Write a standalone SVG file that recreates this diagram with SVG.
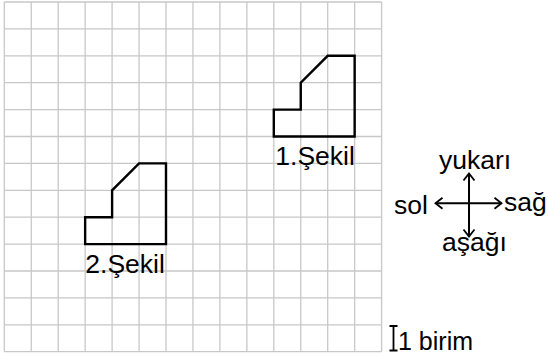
<svg xmlns="http://www.w3.org/2000/svg" width="548" height="358" viewBox="0 0 548 358">
<style>
.grid{stroke:#c8c8c8;stroke-width:1.3;fill:none}
.shape{stroke:#000;stroke-width:2.4;fill:none;stroke-linejoin:miter}
.lbl{font-family:"Liberation Sans",Arial,sans-serif;font-size:26.5px;fill:#000}
.dir{font-family:"Liberation Sans",Arial,sans-serif;font-size:26.5px;fill:#000}
.ax{stroke:#000;stroke-width:2;fill:none}
</style>
<defs>
<marker id="chev" markerUnits="userSpaceOnUse" markerWidth="12" markerHeight="14" viewBox="-9 -7 12 14" refX="0" refY="0" orient="auto">
<path d="M-7,-5.5 L0,0 L-7,5.5" fill="none" stroke="#000" stroke-width="1.8"/>
</marker>
</defs>
<rect width="548" height="358" fill="#fff"/>
<g id="grid" class="grid">
<path d="M4.3,2V351.7M31.25,2V351.7M58.2,2V351.7M85.15,2V351.7M112.1,2V351.7M139.05,2V351.7M166,2V351.7M192.95,2V351.7M219.9,2V351.7M246.85,2V351.7M273.8,2V351.7M300.75,2V351.7M327.7,2V351.7M354.65,2V351.7M381.6,2V351.7"/>
<path d="M4.3,2H381.6M4.3,28.9H381.6M4.3,55.8H381.6M4.3,82.7H381.6M4.3,109.6H381.6M4.3,136.5H381.6M4.3,163.4H381.6M4.3,190.3H381.6M4.3,217.2H381.6M4.3,244.1H381.6M4.3,271H381.6M4.3,297.9H381.6M4.3,324.8H381.6M4.3,351.7H381.6"/>
</g>
<g id="sekil1">
<path class="shape" d="M273.8,136.5V109.6H300.75V82.7L327.7,55.8H354.65V136.5Z"/>
<text class="lbl" x="275.3" y="165">1.Şekil</text>
</g>
<g id="sekil2">
<path class="shape" d="M85.15,244.1V217.2H112.1V190.3L139.05,163.4H166V244.1Z"/>
<text class="lbl" x="85.3" y="273">2.Şekil</text>
</g>
<g id="compass">
<g id="connectors">
<line class="ax" x1="469" y1="203.3" x2="469" y2="173.5" marker-end="url(#chev)"/>
<line class="ax" x1="469" y1="203.3" x2="469" y2="236.5" marker-end="url(#chev)"/>
<line class="ax" x1="469" y1="203.3" x2="435.5" y2="203.3" marker-end="url(#chev)"/>
<line class="ax" x1="469" y1="203.3" x2="501.5" y2="203.3" marker-end="url(#chev)"/>
</g>
<text class="dir" x="439" y="169">yukarı</text>
<text class="dir" x="394" y="214">sol</text>
<text class="dir" x="504" y="211">sağ</text>
<text class="dir" x="442" y="251">aşağı</text>
</g>
<g id="scale">
<path d="M393.5,326V350.5M389.5,326H397.5M389.5,350.5H397.5" stroke="#000" stroke-width="1.8" fill="none"/>
<text class="lbl" x="398" y="350" style="font-size:25px">1 birim</text>
</g>
</svg>
